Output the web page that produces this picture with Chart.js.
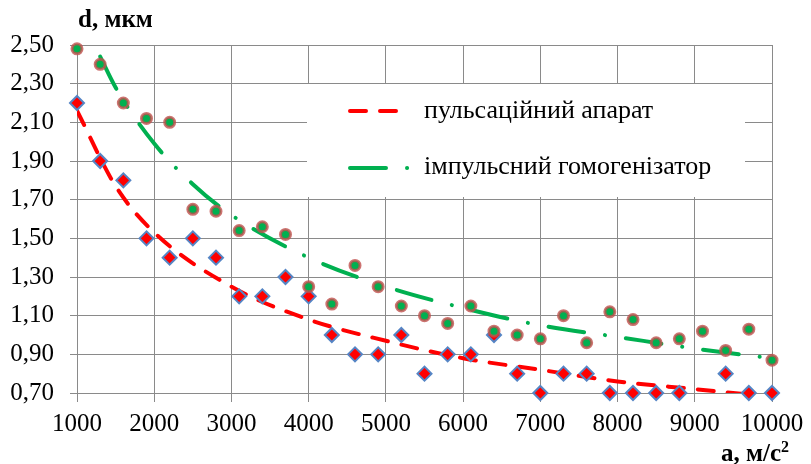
<!DOCTYPE html>
<html>
<head>
<meta charset="utf-8">
<script src="https://cdn.jsdelivr.net/npm/chart.js@4.4.0/dist/chart.umd.min.js"></script>
<style>
  html, body { margin: 0; padding: 0; background: #fff; }
  #wrap { width: 811px; height: 464px; position: relative; }
</style>
</head>
<body>
<div id="wrap"><canvas id="myChart" width="811" height="464"></canvas></div>
<script>
// acceleration a, m/s2 (measurement points)
const accel = [1000, 1300, 1600, 1900, 2200, 2500, 2800, 3100, 3400, 3700, 4000,
  4300, 4600, 4900, 5200, 5500, 5800, 6100, 6400, 6700, 7000,
  7300, 7600, 7900, 8200, 8500, 8800, 9100, 9400, 9700, 10000];
// d, mkm - pulsation apparatus (diamonds)
const dPulse = [2.20, 1.90, 1.80, 1.50, 1.40, 1.50, 1.40, 1.20, 1.20, 1.30, 1.20,
  1.00, 0.90, 0.90, 1.00, 0.80, 0.90, 0.90, 1.00, 0.80, 0.70,
  0.80, 0.80, 0.70, 0.70, 0.70, 0.70, null, 0.80, 0.70, 0.70];
// d, mkm - impulse homogenizer (circles)
const dImpulse = [2.48, 2.40, 2.20, 2.12, 2.10, 1.65, 1.64, 1.54, 1.56, 1.52, 1.25,
  1.16, 1.36, 1.25, 1.15, 1.10, 1.06, 1.15, 1.02, 1.00, 0.98,
  1.10, 0.96, 1.12, 1.08, 0.96, 0.98, 1.02, 0.92, 1.03, 0.87];
// trend lines
const pulseTrendX = [1000, 1500, 2000, 3000, 4000, 5000, 6000, 7000, 8000, 9000, 10000];
const pulseTrendY = [2.16, 1.77, 1.53, 1.25, 1.08, 0.97, 0.88, 0.82, 0.76, 0.72, 0.68];
const impulseTrendX = [1300, 1500, 2000, 2500, 3000, 4000, 5000, 6000, 7000, 8000, 9000, 10000];
const impulseTrendY = [2.44, 2.28, 1.99, 1.78, 1.62, 1.40, 1.25, 1.14, 1.05, 0.99, 0.93, 0.88];

const xTicks = [1000, 2000, 3000, 4000, 5000, 6000, 7000, 8000, 9000, 10000];
const yTicks = [0.70, 0.90, 1.10, 1.30, 1.50, 1.70, 1.90, 2.10, 2.30, 2.50];

const legendNames = ['пульсаційний апарат', 'імпульсний гомогенізатор'];
const yTitle = 'd, мкм';
const xTitle = 'а, м/с';

const serif = "'Liberation Serif', 'Times New Roman', serif";
const gridColor = '#8a8a8a';
const redDash = [16, 14];
const greenDash = [36, 21, 0.1, 21];

function pts(xs, ys) {
  return xs.map((x, i) => ({ x: x, y: ys[i] }));
}

// legend box + axis titles
const extras = {
  id: 'extras',
  beforeDatasetsDraw(chart) {
    const ctx = chart.ctx;
    ctx.save();
    ctx.fillStyle = '#fff';
    ctx.fillRect(307, 84, 438, 113);

    ctx.lineWidth = 4;
    ctx.lineCap = 'round';
    ctx.strokeStyle = '#FF0000';
    ctx.setLineDash(redDash);
    ctx.beginPath(); ctx.moveTo(350, 111); ctx.lineTo(403, 111); ctx.stroke();
    ctx.strokeStyle = '#00B050';
    ctx.setLineDash(greenDash);
    ctx.beginPath(); ctx.moveTo(350, 168); ctx.lineTo(410, 168); ctx.stroke();
    ctx.setLineDash([]);

    ctx.fillStyle = '#000';
    ctx.font = '26px ' + serif;
    ctx.textBaseline = 'alphabetic';
    ctx.textAlign = 'left';
    ctx.fillText(legendNames[0], 424, 118);
    ctx.fillText(legendNames[1], 424, 174);
    ctx.restore();
  },
  afterDraw(chart) {
    const ctx = chart.ctx;
    ctx.save();
    ctx.fillStyle = '#000';
    ctx.textBaseline = 'alphabetic';
    ctx.font = 'bold 25px ' + serif;
    ctx.textAlign = 'left';
    ctx.fillText(yTitle, 78, 27);
    ctx.textAlign = 'right';
    ctx.font = 'bold 16px ' + serif;
    ctx.fillText('2', 789, 452);
    const w2 = ctx.measureText('2').width;
    ctx.font = 'bold 25px ' + serif;
    ctx.fillText(xTitle, 789 - w2, 461);
    ctx.restore();
  }
};

new Chart(document.getElementById('myChart'), {
  type: 'scatter',
  data: {
    datasets: [
      {
        label: 'impulse',
        data: pts(accel, dImpulse),
        pointStyle: 'circle',
        pointRadius: 5,
        pointHoverRadius: 5,
        backgroundColor: '#00B050',
        borderColor: 'rgba(192,80,77,0.8)',
        borderWidth: 3,
        clip: false,
        order: 0
      },
      {
        label: 'pulse',
        data: pts(accel, dPulse),
        pointStyle: 'rectRot',
        pointRadius: 7,
        pointHoverRadius: 7,
        backgroundColor: '#FF0000',
        borderColor: '#5585C5',
        borderWidth: 2,
        clip: false,
        order: 1
      },
      {
        label: 'pulse trend',
        data: pts(pulseTrendX, pulseTrendY),
        showLine: true,
        pointRadius: 0,
        borderColor: '#FF0000',
        borderWidth: 4,
        borderDash: redDash,
        borderCapStyle: 'round',
        cubicInterpolationMode: 'monotone',
        order: 2
      },
      {
        label: 'impulse trend',
        data: pts(impulseTrendX, impulseTrendY),
        showLine: true,
        pointRadius: 0,
        borderColor: '#00B050',
        borderWidth: 4,
        borderDash: greenDash,
        borderCapStyle: 'round',
        cubicInterpolationMode: 'monotone',
        order: 3
      }
    ]
  },
  options: {
    responsive: false,
    animation: false,
    events: [],
    layout: { padding: { top: 45, right: 39, left: 0, bottom: 0 } },
    plugins: {
      legend: { display: false },
      tooltip: { enabled: false },
      title: { display: false }
    },
    scales: {
      x: {
        type: 'linear',
        min: 1000,
        max: 10000,
        afterBuildTicks: s => { s.ticks = xTicks.map(v => ({ value: v })); },
        afterFit: s => { s.height = 71; },
        ticks: {
          color: '#000',
          font: { family: serif, size: 25 },
          padding: 7,
          maxRotation: 0,
          callback: v => String(v)
        },
        grid: { color: gridColor, lineWidth: 1, tickLength: 9, drawTicks: true },
        border: { color: gridColor, width: 1 }
      },
      y: {
        min: 0.7,
        max: 2.5,
        afterBuildTicks: s => { s.ticks = yTicks.map(v => ({ value: v })); },
        afterFit: s => { s.width = 77; },
        ticks: {
          color: '#000',
          font: { family: serif, size: 25 },
          padding: 16,
          callback: v => v.toFixed(2).replace('.', ',')
        },
        grid: { color: gridColor, lineWidth: 1, tickLength: 7, drawTicks: true },
        border: { color: gridColor, width: 1 }
      }
    }
  },
  plugins: [extras]
});
</script>
</body>
</html>
